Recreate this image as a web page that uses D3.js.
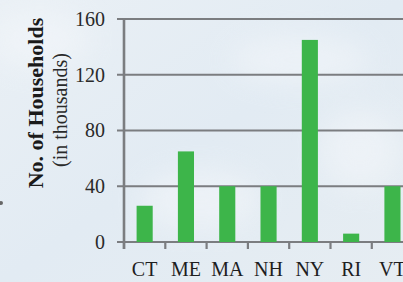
<!DOCTYPE html>
<html>
<head>
<meta charset="utf-8">
<script src="https://cdn.jsdelivr.net/npm/d3@7"></script>
<style>
  html, body { margin: 0; padding: 0; background: #e5ecf2; }
  svg { display: block; }
</style>
</head>
<body>
<svg></svg>
<script>
// households by state (thousands)
var states = ["CT", "ME", "MA", "NH", "NY", "RI", "VT"];
var households = [26, 65, 40, 40, 145, 6, 40];
var yTicks = [0, 40, 80, 120, 160];

var width = 403;
var height = 282;
var svg = d3.select("svg")
            .attr("width", width)
            .attr("height", height);

// sky-ish background
var defs = svg.append("defs");
var grad = defs.append("linearGradient")
               .attr("id", "sky")
               .attr("x1", 0).attr("y1", 0).attr("x2", 1).attr("y2", 1);
grad.append("stop").attr("offset", "0%").attr("stop-color", "#eaf0f5");
grad.append("stop").attr("offset", "50%").attr("stop-color", "#e2ebf3");
grad.append("stop").attr("offset", "100%").attr("stop-color", "#e6edf2");
defs.append("filter").attr("id", "blur")
    .append("feGaussianBlur").attr("stdDeviation", 14);

svg.append("rect")
   .attr("width", width).attr("height", height)
   .attr("fill", "url(#sky)");

var clouds = svg.append("g").attr("filter", "url(#blur)").attr("opacity", 0.55);
[[40, 40, 50, 30], [300, 60, 70, 25], [200, 200, 60, 30], [360, 150, 40, 40]].forEach(c => {
  clouds.append("ellipse")
        .attr("cx", c[0]).attr("cy", c[1]).attr("rx", c[2]).attr("ry", c[3])
        .attr("fill", "#f4f7fa");
});

var margin = {top: 19, left: 124, bottom: 242};
var step = 41.3;

var x = d3.scaleBand()
          .domain(states)
          .range([margin.left, margin.left + step * states.length])
          .paddingInner(0.61)
          .paddingOuter(0.305);

var y = d3.scaleLinear()
          .domain([0, 160])
          .range([margin.bottom, margin.top]);

var axisColor = "#7b7d80";

// gridlines (with ticks poking left of the axis)
svg.append("g")
   .selectAll("line")
   .data(yTicks)
   .enter()
   .append("line")
     .attr("x1", margin.left - 7)
     .attr("x2", width)
     .attr("y1", d => y(d))
     .attr("y2", d => y(d))
     .attr("stroke", axisColor)
     .attr("stroke-width", 2.2);

// bars
svg.append("g")
   .selectAll("rect")
   .data(households)
   .enter()
   .append("rect")
     .attr("x", (d, i) => x(states[i]))
     .attr("y", d => y(d))
     .attr("width", x.bandwidth())
     .attr("height", d => y(0) - y(d))
     .attr("fill", "#3db54a");

// y axis labels
svg.append("g")
   .attr("transform", "translate(" + margin.left + ",0)")
   .call(d3.axisLeft(y).tickValues(yTicks).tickSize(0).tickPadding(19))
   .call(g => g.select(".domain").remove())
   .selectAll("text")
     .attr("font-family", "Liberation Serif, serif")
     .attr("font-size", 20)
     .attr("fill", "#2a2a2a");

// vertical axis line
svg.append("line")
   .attr("x1", margin.left).attr("x2", margin.left)
   .attr("y1", y(160) - 1).attr("y2", y(0) + 7)
   .attr("stroke", axisColor)
   .attr("stroke-width", 2.6);

// category ticks at slot boundaries
svg.append("g")
   .selectAll("line")
   .data(states)
   .enter()
   .append("line")
     .attr("x1", d => x(d) - x.step() * 0.305)
     .attr("x2", d => x(d) - x.step() * 0.305)
     .attr("y1", y(0))
     .attr("y2", y(0) + 7)
     .attr("stroke", axisColor)
     .attr("stroke-width", 2.2);

svg.append("g")
   .selectAll("text")
   .data(states)
   .enter()
   .append("text")
     .text(d => d)
     .attr("x", d => x(d) + x.bandwidth() / 2)
     .attr("y", 276)
     .attr("text-anchor", "middle")
     .attr("font-family", "Liberation Serif, serif")
     .attr("font-size", 20)
     .attr("fill", "#1e1e1e");

// axis title
svg.append("text")
   .text("No. of Households")
   .attr("transform", "translate(43,103) rotate(-90)")
   .attr("text-anchor", "middle")
   .attr("font-family", "Liberation Serif, serif")
   .attr("font-weight", "bold")
   .attr("font-size", 22)
   .attr("fill", "#1a1a1a");

svg.append("text")
   .text("(in thousands)")
   .attr("transform", "translate(67,110) rotate(-90)")
   .attr("text-anchor", "middle")
   .attr("font-family", "Liberation Serif, serif")
   .attr("font-size", 20)
   .attr("fill", "#2a2a2a");

svg.append("circle")
   .attr("cx", 1).attr("cy", 203).attr("r", 2)
   .attr("fill", "#666");
</script>
</body>
</html>
